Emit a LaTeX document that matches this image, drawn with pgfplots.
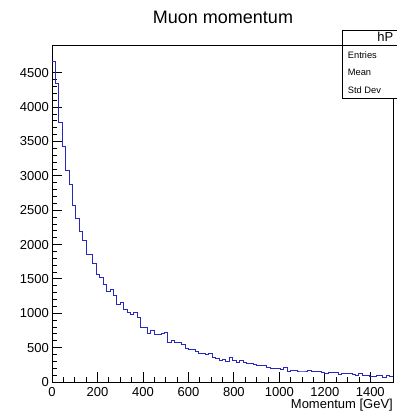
\documentclass[border=0pt]{standalone}
\usepackage{fontspec}
\setmainfont{Liberation Sans}
\usepackage{pgfplots}
\usepackage{pgfplotstable}
\pgfplotsset{compat=1.18}
\definecolor{histblue}{RGB}{40,40,190}

% hP: muon momentum, 100 bins of 15 GeV (left bin edge, entries)
\pgfplotstableread{
x y
0 4670
15 4350
30 3780
45 3425
60 3085
75 2870
90 2570
105 2385
120 2188
135 2057
150 1851
165 1851
180 1720
195 1562
210 1521
225 1417
240 1320
255 1345
270 1252
285 1123
300 1157
315 1055
330 1015
345 980
360 1010
375 945
390 790
405 790
420 712
435 755
450 694
465 694
480 705
495 720
510 572
525 611
540 572
555 572
570 548
585 495
600 476
615 476
630 441
645 417
660 417
675 403
690 417
705 359
720 345
735 311
750 330
765 306
780 354
795 320
810 286
825 311
840 281
855 271
870 272
885 257
900 238
915 238
930 247
945 213
960 199
975 199
990 199
1005 184
1020 208
1035 160
1050 165
1065 165
1080 160
1095 160
1110 160
1125 175
1140 150
1155 150
1170 150
1185 141
1200 126
1215 136
1230 136
1245 136
1260 112
1275 121
1290 121
1305 121
1320 112
1335 97
1350 126
1365 102
1380 102
1395 78
1410 78
1425 92
1440 102
1455 73
1470 92
1485 80
1500 80
}\hp

\begin{document}
\begin{tikzpicture}[x=1pt,y=1pt]
\useasboundingbox (0,0) rectangle (396,414);
\begin{axis}[
  at={(52pt,32pt)}, anchor=south west,
  scale only axis, width=341pt, height=337pt,
  xmin=0, xmax=1500, ymin=0, ymax=4903,
  axis line style={line width=0.8pt},
  tick pos=left, tick align=inside,
  major tick length=10pt, minor tick length=5pt,
  tick style={black, line width=0.8pt},
  xtick={0,200,...,1400}, minor x tick num=3,
  ytick={0,500,...,4500}, minor y tick num=4,
  scaled ticks=false,
  /pgf/number format/1000 sep={},
  /pgf/number format/assume math mode=true,
  ticklabel style={font=\fontsize{13}{13}\selectfont},
  xticklabel style={inner sep=0pt, yshift=-5pt},
  yticklabel style={inner sep=0pt, xshift=-3pt},
  xlabel={Momentum [GeV]},
  x label style={at={(axis description cs:1,0)}, anchor=base east,
    inner sep=0pt, yshift=-26pt, font=\fontsize{13}{13}\selectfont},
]
\addplot[const plot, histblue, line width=0.9pt] table {\hp};
\end{axis}
% title
\node[anchor=base, inner sep=0pt, font=\fontsize{18}{18}\selectfont] at (223,390) {Muon momentum};
% statistics box
\draw[fill=white, line width=0.8pt] (342.7,384) rectangle (440,315.7);
\draw[line width=0.8pt] (342.7,369) -- (440,369);
\node[anchor=base east, inner sep=0pt, font=\fontsize{13}{13}\selectfont] at (393.5,372) {hP};
\node[anchor=base west, inner sep=0pt, font=\fontsize{9.3}{9.3}\selectfont] at (347.7,355.7) {Entries};
\node[anchor=base west, inner sep=0pt, font=\fontsize{9.3}{9.3}\selectfont] at (347.7,338) {Mean};
\node[anchor=base west, inner sep=0pt, font=\fontsize{9.3}{9.3}\selectfont] at (347.7,320.7) {Std Dev};
\end{tikzpicture}
\end{document}
